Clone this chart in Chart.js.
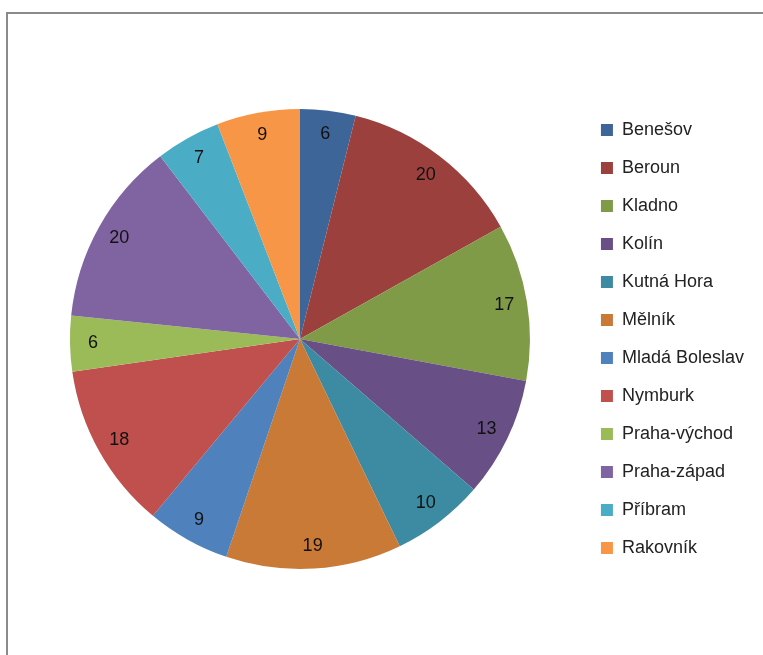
<!DOCTYPE html>
<html>
<head>
<meta charset="utf-8">
<script src="https://cdn.jsdelivr.net/npm/chart.js@4.4.1/dist/chart.umd.min.js"></script>
<style>
  html, body { margin: 0; padding: 0; background: #fff; }
  #wrap { position: relative; width: 763px; height: 655px; }
</style>
</head>
<body>
<div id="wrap"><canvas id="pie" width="763" height="655"></canvas></div>
<script>
const districts = ["Benešov", "Beroun", "Kladno", "Kolín", "Kutná Hora", "Mělník",
  "Mladá Boleslav", "Nymburk", "Praha-východ", "Praha-západ", "Příbram", "Rakovník"];
const counts = [6, 20, 17, 13, 10, 19, 9, 18, 6, 20, 7, 9];
const sliceColors = ["#3e6598", "#9c403e", "#7f9b48", "#684f86", "#3c8ba2", "#ca7a37",
  "#4f81bd", "#c0504d", "#9bbb59", "#8064a2", "#4bacc6", "#f79646"];

const labelFont = '"Liberation Sans", Arial, sans-serif';

// grey frame of the chart area, only left and top edges are visible
const frame = {
  id: 'frame',
  beforeDraw(chart) {
    const ctx = chart.ctx;
    ctx.save();
    ctx.strokeStyle = '#8a8a8a';
    ctx.lineWidth = 2;
    ctx.beginPath();
    ctx.moveTo(7, 700);
    ctx.lineTo(7, 13);
    ctx.lineTo(800, 13);
    ctx.stroke();
    ctx.restore();
  }
};

// value labels inside each slice
const sliceLabels = {
  id: 'sliceLabels',
  afterDatasetsDraw(chart) {
    const ctx = chart.ctx;
    const meta = chart.getDatasetMeta(0);
    ctx.save();
    ctx.font = '18px ' + labelFont;
    ctx.fillStyle = '#111';
    ctx.textAlign = 'center';
    ctx.textBaseline = 'middle';
    meta.data.forEach((arc, i) => {
      const p = arc.getProps(['x', 'y', 'startAngle', 'endAngle', 'outerRadius'], true);
      const mid = (p.startAngle + p.endAngle) / 2;
      const r = p.outerRadius * 0.9;
      ctx.fillText(String(counts[i]), p.x + Math.cos(mid) * r, p.y + Math.sin(mid) * r);
    });
    ctx.restore();
  }
};

new Chart(document.getElementById('pie'), {
  type: 'pie',
  data: {
    labels: districts,
    datasets: [{
      data: counts,
      backgroundColor: sliceColors,
      borderWidth: 0
    }]
  },
  options: {
    responsive: false,
    animation: false,
    radius: 230,
    layout: { padding: { left: 19, right: 9, top: 23, bottom: 0 } },
    plugins: {
      legend: {
        position: 'right',
        labels: {
          boxWidth: 12,
          boxHeight: 12,
          padding: 20,
          color: '#222',
          font: { family: labelFont, size: 18 }
        }
      },
      tooltip: { enabled: false }
    }
  },
  plugins: [frame, sliceLabels]
});
</script>
</body>
</html>
